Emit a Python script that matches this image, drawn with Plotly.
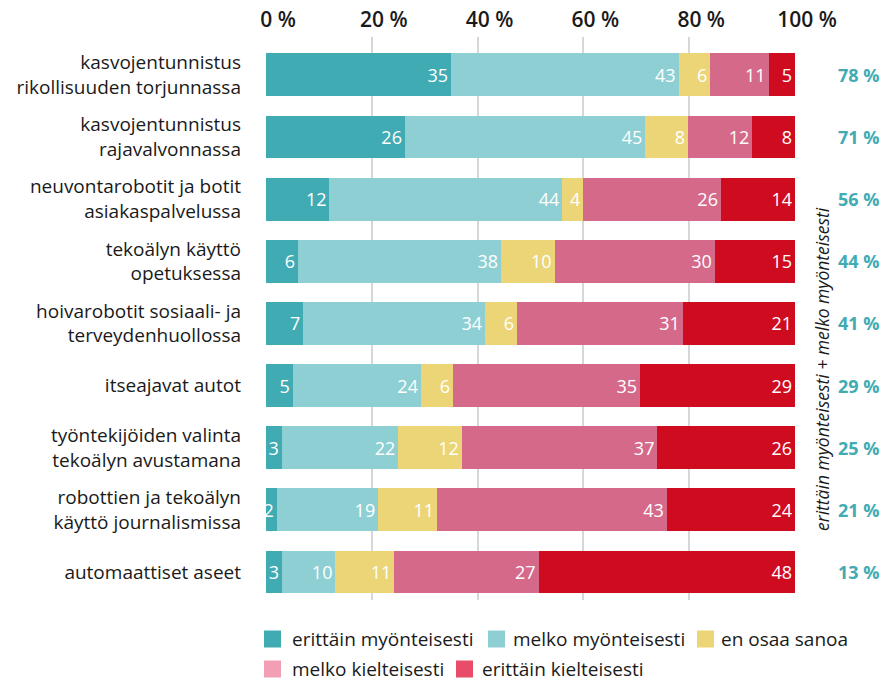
import plotly.graph_objects as go

categories = [
    "kasvojentunnistus<br>rikollisuuden torjunnassa",
    "kasvojentunnistus<br>rajavalvonnassa",
    "neuvontarobotit ja botit<br>asiakaspalvelussa",
    "tekoälyn käyttö<br>opetuksessa",
    "hoivarobotit sosiaali- ja<br>terveydenhuollossa",
    "itseajavat autot",
    "työntekijöiden valinta<br>tekoälyn avustamana",
    "robottien ja tekoälyn<br>käyttö journalismissa",
    "automaattiset aseet",
]
erittain_myonteisesti = [35, 26, 12, 6, 7, 5, 3, 2, 3]
melko_myonteisesti = [43, 45, 44, 38, 34, 24, 22, 19, 10]
en_osaa_sanoa = [6, 8, 4, 10, 6, 6, 12, 11, 11]
melko_kielteisesti = [11, 12, 26, 30, 31, 35, 37, 43, 27]
erittain_kielteisesti = [5, 8, 14, 15, 21, 29, 26, 24, 48]
myonteiset_yhteensa = [78, 71, 56, 44, 41, 29, 25, 21, 13]

series_names = ["erittäin myönteisesti", "melko myönteisesti", "en osaa sanoa",
                "melko kielteisesti", "erittäin kielteisesti"]
series_values = [erittain_myonteisesti, melko_myonteisesti, en_osaa_sanoa,
                 melko_kielteisesti, erittain_kielteisesti]
bar_colors = ["#41abb3", "#8ecfd3", "#ecd577", "#d5698a", "#cf0b1f"]
legend_colors = ["#41abb3", "#8ecfd3", "#ecd577", "#f29fb6", "#e84c68"]
tick_vals = [0, 20, 40, 60, 80, 100]
tick_text = ["0 %", "20 %", "40 %", "60 %", "80 %", "100 %"]
side_title = "erittäin myönteisesti + melko myönteisesti"

FONT = "Open Sans"
W, H = 884, 681
L, R, T, B = 266, 795, 37, 600


def px_x(p):
    return (p - L) / (R - L)


def px_y(p):
    return (B - p) / (B - T)


fig = go.Figure()
for name, vals, col in zip(series_names, series_values, bar_colors):
    fig.add_trace(go.Bar(
        y=categories, x=vals, name=name, orientation="h",
        marker=dict(color=col, line=dict(width=0)),
        text=[str(v) for v in vals], textposition="inside",
        insidetextanchor="end", constraintext="none",
        textfont=dict(family=FONT, size=18, color="white", weight=500),
        showlegend=False, hoverinfo="skip",
    ))

annotations = []
for cat, v in zip(categories, myonteiset_yhteensa):
    annotations.append(dict(
        x=1, xref="paper", xshift=41, y=cat, yref="y", xanchor="left",
        yanchor="middle", text=f"<b>{v} %</b>", showarrow=False,
        font=dict(family=FONT, size=18, color="#41abb3"),
    ))
annotations.append(dict(
    x=1, xref="paper", xshift=27, y=px_y(369), yref="paper",
    text=f"<i>{side_title}</i>", textangle=-90, showarrow=False,
    xanchor="center", yanchor="middle",
    font=dict(family=FONT, size=17.5, color="#1a1a1a"),
))

# manual legend
legend_items = [
    (0, 264, 291, 639), (1, 488, 512, 639), (2, 697, 720, 639),
    (3, 264, 291, 669), (4, 456, 481, 669),
]
shapes = []
for idx, sx, tx, cy in legend_items:
    shapes.append(dict(
        type="rect", xref="paper", yref="paper",
        x0=px_x(sx), x1=px_x(sx + 17), y0=px_y(cy + 8.5), y1=px_y(cy - 8.5),
        fillcolor=legend_colors[idx], line=dict(width=0),
    ))
    annotations.append(dict(
        x=px_x(tx), y=px_y(cy), xref="paper", yref="paper",
        xanchor="left", yanchor="middle", text=series_names[idx],
        showarrow=False, borderpad=0,
        font=dict(family=FONT, size=19, color="#1a1a1a"),
    ))

fig.update_layout(
    width=W, height=H,
    margin=dict(l=L, r=W - R, t=T, b=H - B, pad=0, autoexpand=False),
    barmode="stack", barnorm="percent", bargap=0.31,
    plot_bgcolor="white", paper_bgcolor="white",
    font=dict(family=FONT, color="#1a1a1a"),
    showlegend=False,
    annotations=annotations, shapes=shapes,
    xaxis=dict(
        side="top", range=[0, 100], tickvals=tick_vals, ticktext=tick_text,
        showgrid=True, gridcolor="#d4d8d8", gridwidth=2, zeroline=False,
        showline=False, ticks="", ticklabelshift=12, ticklabelstandoff=5,
        tickfont=dict(family=FONT, size=21, color="#1a1a1a", weight=600),
        fixedrange=True, automargin=False,
    ),
    yaxis=dict(
        categoryorder="array", categoryarray=categories,
        range=[8.45, -0.61], showgrid=False, zeroline=False, showline=False,
        ticks="", ticklabelstandoff=24,
        tickfont=dict(family=FONT, size=19, color="#1a1a1a"),
        fixedrange=True, automargin=False,
    ),
)

fig.write_html(
    "out.html",
    config={"displayModeBar": False},
    post_script="document.body.style.margin='0';document.body.style.overflow='hidden';",
)
